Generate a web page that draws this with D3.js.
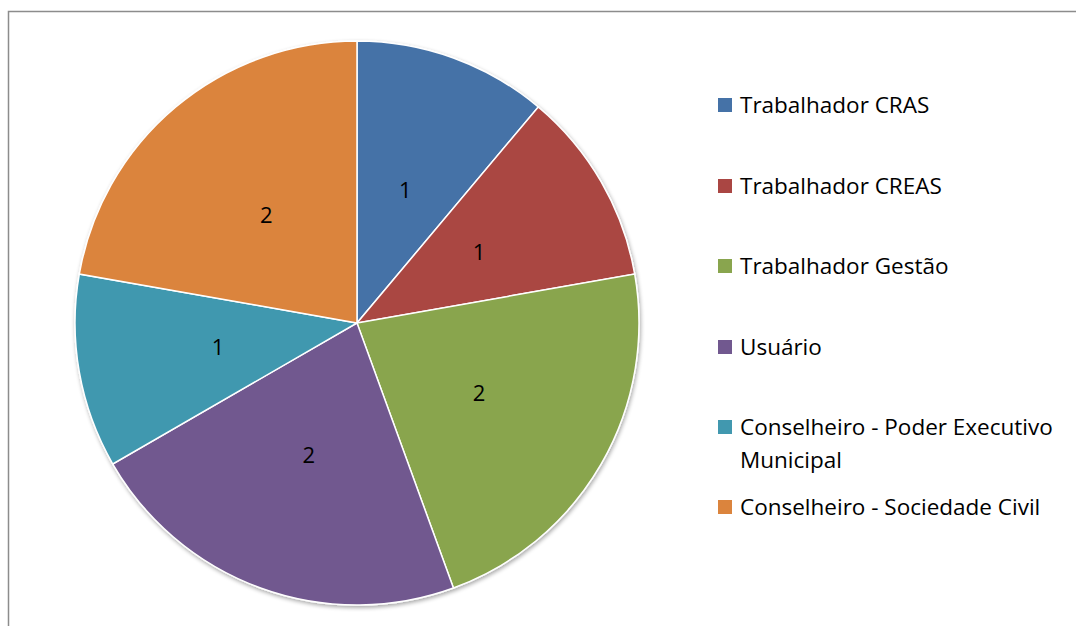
<!DOCTYPE html>
<html><head><meta charset="utf-8">
<script src="https://cdn.jsdelivr.net/npm/d3@7"></script>
<style>body{margin:0;background:#fff}svg{display:block}</style>
</head><body>
<svg id="c" width="1076" height="626"></svg>
<script>
const categories = ["Trabalhador CRAS","Trabalhador CREAS","Trabalhador Gestão","Usuário","Conselheiro - Poder Executivo Municipal","Conselheiro - Sociedade Civil"];
const values = [1,1,2,2,1,2];
const colors = ["#4572A7","#AA4643","#89A54E","#71588F","#4198AF","#DB843D"];
const legendLines = [["Trabalhador CRAS"],["Trabalhador CREAS"],["Trabalhador Gestão"],["Usuário"],["Conselheiro - Poder Executivo","Municipal"],["Conselheiro - Sociedade Civil"]];

const svg = d3.select("#c");
const font = "'Open Sans', sans-serif";
svg.append("rect").attr("x",8.5).attr("y",11.5).attr("width",1100).attr("height",700)
  .attr("fill","none").attr("stroke","#8c8c8c").attr("stroke-width",1.5);

const cx=357, cy=323, r=282;
const defs = svg.append("defs");
const f = defs.append("filter").attr("id","sh").attr("x","-10%").attr("y","-10%").attr("width","120%").attr("height","120%");
f.append("feGaussianBlur").attr("in","SourceAlpha").attr("stdDeviation",2);
f.append("feOffset").attr("dx",1).attr("dy",2).attr("result","b");
f.append("feComponentTransfer").append("feFuncA").attr("type","linear").attr("slope",0.35);
const m=f.append("feMerge"); m.append("feMergeNode"); m.append("feMergeNode").attr("in","SourceGraphic");

const pie = d3.pie().sort(null).value(d=>d);
const arcs = pie(values);
const arc = d3.arc().innerRadius(0).outerRadius(r);
const lab = d3.arc().innerRadius(r*0.5).outerRadius(r*0.5);
const g = svg.append("g").attr("transform",`translate(${cx},${cy})`);
g.append("g").attr("filter","url(#sh)").selectAll("path").data(arcs).join("path")
  .attr("d",arc).attr("fill",(d,i)=>colors[i]).attr("stroke","#fff").attr("stroke-width",1.5);
g.selectAll("text").data(arcs).join("text")
  .attr("transform",d=>`translate(${lab.centroid(d)})`)
  .attr("text-anchor","middle").attr("dy","0.35em")
  .attr("font-family",font).attr("font-size",22).attr("fill","#000")
  .text(d=>d.value);

const ly = [105,186,266,347,427,507];
const lg = svg.append("g");
legendLines.forEach((lines,i)=>{
  lg.append("rect").attr("x",718).attr("y",ly[i]-7).attr("width",14).attr("height",14).attr("fill",colors[i]);
  const t = lg.append("text").attr("x",740).attr("y",ly[i])
    .attr("font-family",font).attr("font-size",22.5).attr("fill","#000");
  lines.forEach((l,j)=>t.append("tspan").attr("x",740).attr("dy",j===0?"0.35em":"33px").text(l));
});
</script>
</body></html>
